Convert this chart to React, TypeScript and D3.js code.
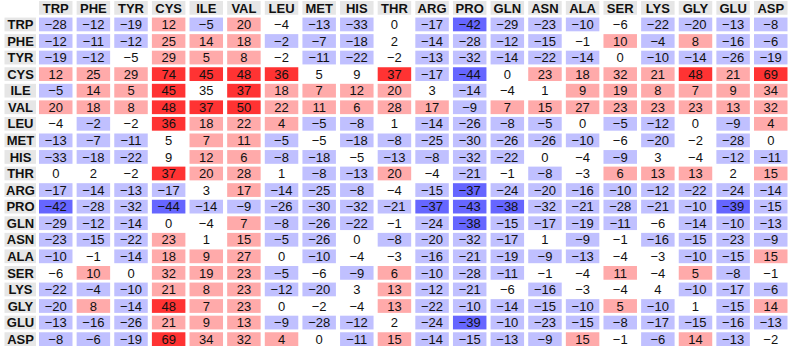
import React, { useRef, useEffect } from 'react';
import * as d3 from 'd3';

const residues = ["TRP", "PHE", "TYR", "CYS", "ILE", "VAL", "LEU", "MET", "HIS", "THR",
  "ARG", "PRO", "GLN", "ASN", "ALA", "SER", "LYS", "GLY", "GLU", "ASP"];

// contact score matrix, rows follow `residues`
const values: number[][] = [
  [-28, -12, -19, 12, -5, 20, -4, -13, -33, 0, -17, -42, -29, -23, -10, -6, -22, -20, -13, -8],
  [-12, -11, -12, 25, 14, 18, -2, -7, -18, 2, -14, -28, -12, -15, -1, 10, -4, 8, -16, -6],
  [-19, -12, -5, 29, 5, 8, -2, -11, -22, -2, -13, -32, -14, -22, -14, 0, -10, -14, -26, -19],
  [12, 25, 29, 74, 45, 48, 36, 5, 9, 37, -17, -44, 0, 23, 18, 32, 21, 48, 21, 69],
  [-5, 14, 5, 45, 35, 37, 18, 7, 12, 20, 3, -14, -4, 1, 9, 19, 8, 7, 9, 34],
  [20, 18, 8, 48, 37, 50, 22, 11, 6, 28, 17, -9, 7, 15, 27, 23, 23, 23, 13, 32],
  [-4, -2, -2, 36, 18, 22, 4, -5, -8, 1, -14, -26, -8, -5, 0, -5, -12, 0, -9, 4],
  [-13, -7, -11, 5, 7, 11, -5, -5, -18, -8, -25, -30, -26, -26, -10, -6, -20, -2, -28, 0],
  [-33, -18, -22, 9, 12, 6, -8, -18, -5, -13, -8, -32, -22, 0, -4, -9, 3, -4, -12, -11],
  [0, 2, -2, 37, 20, 28, 1, -8, -13, 20, -4, -21, -1, -8, -3, 6, 13, 13, 2, 15],
  [-17, -14, -13, -17, 3, 17, -14, -25, -8, -4, -15, -37, -24, -20, -16, -10, -12, -22, -24, -14],
  [-42, -28, -32, -44, -14, -9, -26, -30, -32, -21, -37, -43, -38, -32, -21, -28, -21, -10, -39, -15],
  [-29, -12, -14, 0, -4, 7, -8, -26, -22, -1, -24, -38, -15, -17, -19, -11, -6, -14, -10, -13],
  [-23, -15, -22, 23, 1, 15, -5, -26, 0, -8, -20, -32, -17, 1, -9, -1, -16, -15, -23, -9],
  [-10, -1, -14, 18, 9, 27, 0, -10, -4, -3, -16, -21, -19, -9, -13, -4, -3, -10, -15, 15],
  [-6, 10, 0, 32, 19, 23, -5, -6, -9, 6, -10, -28, -11, -1, -4, 11, -4, 5, -8, -1],
  [-22, -4, -10, 21, 8, 23, -12, -20, 3, 13, -12, -21, -6, -16, -3, -4, 4, -10, -17, -6],
  [-20, 8, -14, 48, 7, 23, 0, -2, -4, 13, -22, -10, -14, -15, -10, 5, -10, 1, -15, 14],
  [-13, -16, -26, 21, 9, 13, -9, -28, -12, 2, -24, -39, -10, -23, -15, -8, -17, -15, -16, -13],
  [-8, -6, -19, 69, 34, 32, 4, 0, -11, 15, -14, -15, -13, -9, 15, -1, -6, 14, -13, -2],
];

// 1 = significant (shaded), 0 = not significant (left white)
const significant: string[] = [
  "11111101101111101111",
  "11111111101111011111",
  "11011101101111101111",
  "11111110011101111111",
  "11110111110100111111",
  "11111111111111111111",
  "01011111101111011011",
  "11101110111111101010",
  "11101111011110010011",
  "00011101110101011101",
  "11110111101111111111",
  "11111111111111111111",
  "11100111101111110111",
  "11110111011110101111",
  "10111101001111100111",
  "01011110111110010110",
  "11111111011101000111",
  "11111100011111111011",
  "11111111101111111111",
  "11111110111111101110",
];

function cellColor(v: number, sig: boolean) {
  if (!sig || v === 0) return '#ffffff';
  if (v >= 35) return '#ff3333';
  if (v > 0) return '#ffaaaa';
  if (v <= -35) return '#6666ff';
  return '#c0c0ff';
}

const fmt = (v: number) => String(v).replace('-', '\u2212');

const App: React.FC = () => {
  const ref = useRef<SVGSVGElement | null>(null);
  const width = 789;
  const height = 348;

  useEffect(() => {
    document.body.style.margin = '0';
    const svg = d3.select(ref.current);
    svg.selectAll('*').remove();

    const font = '"Liberation Sans", Arial, Helvetica, sans-serif';

    const x = d3.scaleBand<string>().domain(residues).range([39, 787.5]).paddingInner(0.11);
    const y = d3.scaleBand<string>().domain(['__head', ...residues]).range([1, 346]).paddingInner(0.17);

    const g = svg.append('g').attr('font-family', font);

    // column header
    const head = g.append('g');
    residues.forEach((r) => {
      head.append('rect')
        .attr('x', x(r)!)
        .attr('y', y('__head')!)
        .attr('width', x.bandwidth())
        .attr('height', y.bandwidth())
        .attr('fill', '#e6e6e6');
      head.append('text')
        .attr('x', x(r)! + x.bandwidth() / 2)
        .attr('y', y('__head')! + y.bandwidth() / 2)
        .attr('dy', '0.36em')
        .attr('text-anchor', 'middle')
        .attr('font-weight', 'bold')
        .attr('font-size', '13px')
        .attr('fill', '#111')
        .text(r);
    });

    // rows
    residues.forEach((r, i) => {
      const row = g.append('g');
      row.append('rect')
        .attr('x', 4.5)
        .attr('y', y(r)!)
        .attr('width', 31.5)
        .attr('height', y.bandwidth())
        .attr('fill', '#e6e6e6');
      row.append('text')
        .attr('x', 20.5)
        .attr('y', y(r)! + y.bandwidth() / 2)
        .attr('dy', '0.36em')
        .attr('text-anchor', 'middle')
        .attr('font-weight', 'bold')
        .attr('font-size', '13px')
        .attr('fill', '#111')
        .text(r);

      residues.forEach((c, j) => {
        const v = values[i][j];
        const sig = significant[i][j] === '1';
        row.append('rect')
          .attr('x', x(c)!)
          .attr('y', y(r)!)
          .attr('width', x.bandwidth())
          .attr('height', y.bandwidth())
          .attr('fill', cellColor(v, sig));
        row.append('text')
          .attr('x', x(c)! + x.bandwidth() / 2)
          .attr('y', y(r)! + y.bandwidth() / 2)
          .attr('dy', '0.36em')
          .attr('text-anchor', 'middle')
          .attr('font-size', '13px')
          .attr('fill', '#111')
          .text(fmt(v));
      });
    });
  }, []);

  return <svg ref={ref} width={width} height={height} style={{ display: 'block' }} />;
};

export default App;
